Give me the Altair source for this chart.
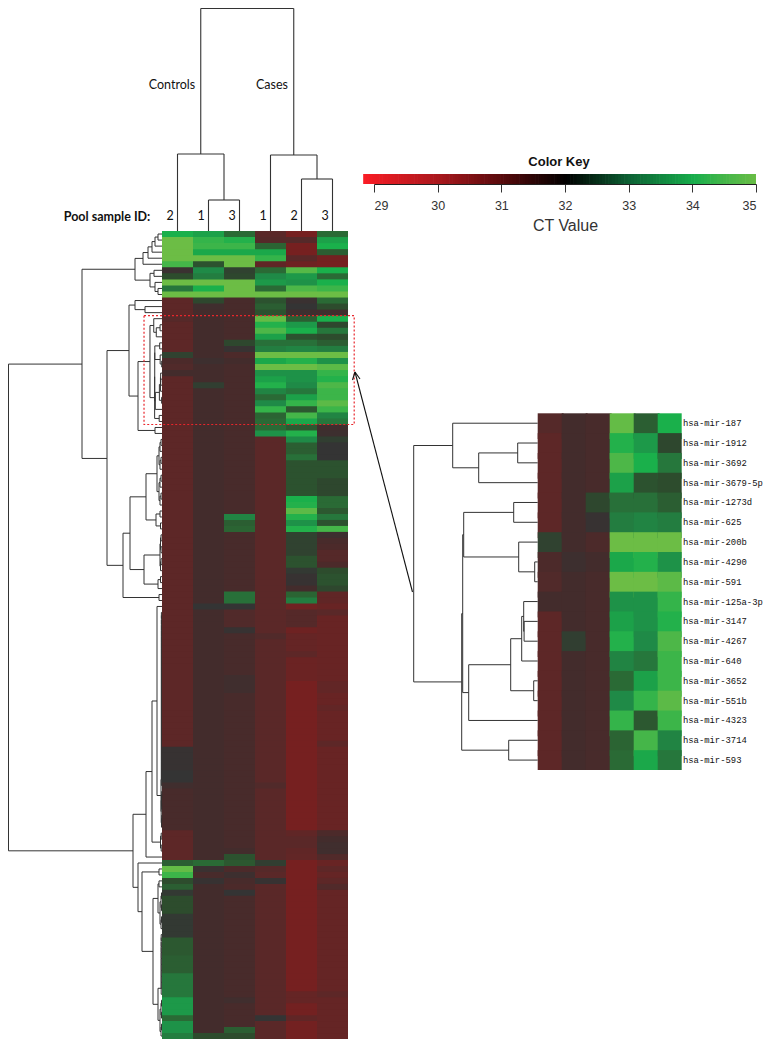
import altair as alt
import pandas as pd

W, H = 755, 1031
OX, OY = 8, 8

# ---------- values ----------
samples = ["2", "1", "3", "1", "2", "3"]
mirs = ["hsa-mir-187", "hsa-mir-1912", "hsa-mir-3692", "hsa-mir-3679-5p", "hsa-mir-1273d", "hsa-mir-625",
        "hsa-mir-200b", "hsa-mir-4290", "hsa-mir-591", "hsa-mir-125a-3p", "hsa-mir-3147", "hsa-mir-4267",
        "hsa-mir-640", "hsa-mir-3652", "hsa-mir-551b", "hsa-mir-4323", "hsa-mir-3714", "hsa-mir-593"]

ins1 = [31.1, 30.9, 30.9, 30.9, 30.9, 30.9, 32.3, 31.3, 31.2, 31.5, 30.9, 30.9, 30.9, 30.9, 30.9, 30.9, 30.9, 30.9]
ins2 = [31.5, 31.5, 31.5, 31.5, 31.5, 31.5, 31.5, 31.7, 31.5, 31.5, 31.5, 32.2, 31.5, 31.5, 31.5, 31.5, 31.5, 31.5]
ins3 = [31.4, 31.4, 31.4, 31.4, 32.4, 31.9, 31.3, 31.5, 31.4, 31.4, 31.4, 31.4, 31.4, 31.4, 31.4, 31.4, 31.4, 31.4]
ins4 = [34.9, 34.1, 34.6, 33.8, 33.1, 33.3, 35.0, 33.9, 35.0, 33.6, 33.8, 34.1, 33.4, 33.0, 33.5, 34.3, 32.9, 33.0]
ins5 = [32.8, 33.7, 34.0, 32.6, 33.1, 33.4, 35.0, 34.1, 35.0, 33.6, 33.6, 33.5, 33.2, 33.8, 34.3, 32.7, 34.5, 33.9]
ins6 = [34.0, 32.4, 33.2, 32.5, 32.8, 33.3, 35.0, 33.6, 34.8, 34.3, 34.1, 34.6, 34.4, 34.4, 34.8, 34.4, 33.4, 33.2]

col1 = ([34.0, 35, 35, 35, 35, 34.5, 31.8, 32.5, 35, 33.2, 35, 30.9, 30.9, 30.9] + ins1 +
        [30.9] * 54 + [31.9] * 4 + [32.0] * 2 + [31.6] + [31.4] * 7 + [30.9] * 5 +
        [32.8, 34.9, 34.4, 32.5, 32.8, 32.1] + [32.5] * 3 + [32.1] * 4 + [32.7] * 3 + [32.8] * 3 +
        [33.2] * 4 + [33.7] * 3 + [33.0] + [33.6] * 2 + [33.3])
col2 = ([33.8, 34.3, 34.4, 33.9, 35, 32.6, 33.5, 33.3, 35, 34.0, 35, 32.4, 31.6, 31.5] + ins2 +
        [31.5] * 30 + [32.0] + [31.5] * 42 + [33.0, 31.8, 31.4, 31.9] + [31.5] * 25 + [32.5])
col3 = ([33.0, 34.1, 34.4, 33.9, 35, 35, 32.3, 32.4, 35, 35, 35, 31.4, 31.4, 31.4] + ins3 +
        [31.4] * 15 + [33.4, 32.8, 32.9] + [31.4] * 10 + [33.1] * 2 + [32.0] + [31.2] * 3 + [31.9] +
        [31.4] * 7 + [31.6] * 3 + [31.4] * 26 + [31.5, 32.6, 32.7, 31.3, 31.7, 31.4, 31.3, 32.0] +
        [31.4] * 17 + [31.6] + [31.4] * 4 + [32.8, 32.5])
col4 = ([31.0, 31.1, 32.9, 33.9, 34.3, 30.8, 33.0, 33.5, 33.7, 33.0, 35, 32.6, 32.8, 32.6] + ins4 +
        [33.0, 33.6] + [30.95] * 33 + [31.2] + [31.0] * 24 + [31.2] + [31.0] * 12 +
        [32.2, 31.1, 31.0, 31.9] + [31.0] * 22 + [32.0] + [31.0] * 3)
col5 = ([30.0, 31.1, 30.0, 30.0, 31.0, 30.3, 34.7, 33.7, 33.6, 34.6, 35, 31.8, 32.0, 31.7] + ins5 +
        [32.7, 34.1, 33.5, 32.8, 32.8, 33.1] + [32.6] * 6 + [34.0, 34.1, 34.8, 34.1, 33.6, 34.1] +
        [32.3] * 4 + [32.6] * 2 + [32.1] + [31.9] * 2 + [31.5, 32.9, 33.3, 30.2] + [31.1] * 3 + [30.3] +
        [30.6] * 3 + [30.9] + [30.4] * 4 + [30.0] * 25 + [30.8, 31.0, 31.0, 30.8, 30.7] + [30.0] * 22 +
        [30.6] * 2 + [30.1] * 2 + [30.8] + [30.1] * 3)
col6 = ([33.0, 33.8, 34.0, 32.8, 30.1, 30.0, 34.0, 33.0, 34.0, 34.4, 35, 33.0, 32.5, 31.6] + ins6 +
        [31.6, 31.7, 32.2] + [32.0] * 3 + [32.6] * 3 + [32.4] * 3 + [33.0, 33.0, 32.7, 33.2, 32.6, 34.5] +
        [31.7, 31.4, 31.3, 31.1, 31.1, 31.3, 32.5, 32.6, 32.6, 32.4, 30.8, 30.8, 30.5, 31.0] +
        [30.5] * 11 + [30.7] * 2 + [30.5] * 2 + [30.7] + [30.5] * 5 + [30.9] + [30.5] * 14 +
        [31.3, 31.5, 31.6, 31.6, 31.2, 30.5, 30.9, 30.6, 30.9, 31.2] + [30.6] * 17 + [30.9] + [30.6] * 7)
columns = [col1, col2, col3, col4, col5, col6]
inset_columns = [ins1, ins2, ins3, ins4, ins5, ins6]
N = len(col1)

heat_domain = [29, 30, 31, 31.5, 32, 32.5, 33, 33.5, 34, 34.5, 35]
heat_range = ["#9c1c1c", "#762020", "#5a2828", "#432c2c", "#343434", "#2d4c2d", "#2a6a35",
              "#1f8a47", "#1ab04b", "#45b649", "#6cbd45"]
key_domain = [29, 30, 31, 32, 33, 34, 34.4, 35]
key_range = ["#ed1c24", "#a8181d", "#560a0c", "#000000", "#0d6335", "#17ad4b", "#3fb54a", "#6abd45"]
key_ticks = [29, 30, 31, 32, 33, 34, 35]
key_steps = [28.83 + i * 0.05 for i in range(124)]


# ---------- dendrogram structure ----------
def T(h, *children):
    return (h, children)


def R(lo, hi, hs):
    if lo == hi:
        return lo
    mid = (lo + hi) // 2
    rest = hs[1:] or hs[-1:]
    return T(hs[0], R(lo, mid, rest), R(mid + 1, hi, rest))


def L(lo, hi, h):
    node = lo
    for r in range(lo + 1, hi + 1):
        node = T(h, node, r)
    return node


def rescale(node, offset, factor):
    if isinstance(node, int):
        return node + offset
    return (node[0] * factor, tuple(rescale(c, offset, factor) for c in node[1]))


def segments(node, out):
    if isinstance(node, int):
        return 0.0, node + 0.5
    h, children = node
    ys = []
    for c in children:
        hc, yc = segments(c, out)
        out.append(dict(h=hc, h2=h, p=yc, p2=yc))
        ys.append(yc)
    out.append(dict(h=h, h2=h, p=ys[0], p2=ys[-1]))
    return h, (ys[0] + ys[-1]) / 2


inset_tree = T(124,
               T(85, 0, T(59, T(20, 1, 2), 3)),
               T(76,
                 T(75,
                   T(74, T(24, 4, 5), T(19, 6, T(3, 7, 8))),
                   T(69, T(27, T(16, T(14, 9, T(13.6, 10, 11)), 12), T(4, 13, 14)), 15)),
                 T(29, 16, 17)))

top_tree = T(222.5, T(77, 0, T(31, 1, 2)), T(76, 3, T(52, 4, 5)))

row_tree = T(153.5,
             T(80,
               T(27,
                 T(19, T(14, T(10, T(7, T(4, 0, 1), 2), 3), 4), 5),
                 T(12, T(8, 6, 7), T(7, 8, T(4, 9, 10)))),
               T(55,
                 T(33,
                   T(27, 11, T(17, 12, 13)),
                   T(24, rescale(inset_tree, 14, 0.097), T(7, 32, 33))),
                 T(39,
                   T(32,
                     T(16, R(34, 45, [5, 3, 2, 1]), T(6, T(2, 46, 47), T(1.5, 48, 49))),
                     T(18, R(50, 56, [2, 1.5, 1]), R(57, 59, [4, 1.5]))),
                   T(3, 60, 61)))),
             T(29,
               T(16,
                 T(10,
                   T(5, 62, T(1, L(63, 92, 0.6), R(93, 99, [0.8, 0.5, 0.3]))),
                   R(100, 103, [1.5, 0.8])),
                 104),
               T(24,
                 105,
                 T(20,
                   T(3, 106, 107),
                   T(9,
                     T(4, T(3, 108, 109), R(110, 116, [2, 1, 0.5])),
                     T(4, L(117, 127, 0.8), R(128, 134, [2, 1, 0.5])))))))


def tree_frame(tree):
    out = []
    segments(tree, out)
    return pd.DataFrame(out)


# ---------- scales (ranges are the plot's pixel areas) ----------
def sc(domain, rng):
    return alt.Scale(domain=domain, range=rng, nice=False, zero=False)


heat_x = sc([0, 6], [162 - OX, 348 - OX])
heat_y = sc([0, 32, N], [231 - OY, 424.5 - OY, H])
ins_x = sc([0, 6], [537.7 - OX, 681.7 - OX])
ins_y = sc([0, 18], [413.3 - OY, 770 - OY])
px_x = sc([0, 771], [-OX, 771 - OX])
px_y = sc([0, 1047], [-OY, 1047 - OY])
heat_col = alt.Scale(domain=heat_domain, range=heat_range, interpolate="rgb")
key_col = alt.Scale(domain=key_domain, range=key_range, interpolate="rgb")


def heat_frame(cols):
    rows = []
    last_c, last_r = len(cols) - 1, len(cols[0]) - 1
    for c, vals in enumerate(cols):
        for r, v in enumerate(vals):
            rows.append(dict(c=c, c2=c + 1 if c == last_c else c + 1.08,
                             r=r, r2=r + 1 if r == last_r else r + 1.3, v=v))
    return pd.DataFrame(rows)


def heat_layer(cols, xs, ys):
    return alt.Chart(heat_frame(cols)).mark_rect(strokeWidth=0).encode(
        x=alt.X("c:Q", scale=xs, axis=None), x2="c2:Q",
        y=alt.Y("r:Q", scale=ys, axis=None), y2="r2:Q",
        color=alt.Color("v:Q", scale=heat_col, legend=None))


def side_tree(tree, xs, ys, width=1.0):
    return alt.Chart(tree_frame(tree)).mark_rule(color="#333333", strokeWidth=width).encode(
        x=alt.X("h:Q", scale=xs, axis=None), x2="h2:Q",
        y=alt.Y("p:Q", scale=ys, axis=None), y2="p2:Q")


main_heat = heat_layer(columns, heat_x, heat_y)
inset_heat = heat_layer(inset_columns, ins_x, ins_y)
left_tree = side_tree(row_tree, sc([0, 162], [162 - OX, -OX]), heat_y)
inset_side = side_tree(inset_tree, sc([0, 124.4], [537.7 - OX, 413.3 - OX]), ins_y)

top_df = tree_frame(top_tree)
top_layer = alt.Chart(top_df).mark_rule(color="#333333", strokeWidth=1.1).encode(
    x=alt.X("p:Q", scale=sc([0, 6], [162 - OX, 348 - OX]), axis=None), x2="p2:Q",
    y=alt.Y("h:Q", scale=sc([0, 231], [231 - OY, -OY]), axis=None), y2="h2:Q")

box_df = pd.DataFrame([dict(c=-0.58, c2=6.2, r=14, r2=32)])
box = alt.Chart(box_df).mark_rect(fill=None, stroke="#e8262c", strokeWidth=1.2,
                                  strokeDash=[2, 2]).encode(
    x=alt.X("c:Q", scale=heat_x, axis=None), x2="c2:Q",
    y=alt.Y("r:Q", scale=heat_y, axis=None), y2="r2:Q")

arrow_df = pd.DataFrame([
    dict(x=412.5, x2=355, y=592, y2=372),
    dict(x=355, x2=352.5, y=372, y2=380),
    dict(x=355, x2=360, y=372, y2=379)])
arrow = alt.Chart(arrow_df).mark_rule(color="#111111", strokeWidth=1.1).encode(
    x=alt.X("x:Q", scale=px_x, axis=None), x2="x2:Q",
    y=alt.Y("y:Q", scale=px_y, axis=None), y2="y2:Q")

labels_df = pd.DataFrame(dict(r=[i + 0.5 for i in range(18)], c=[6] * 18, t=mirs))
labels = alt.Chart(labels_df).mark_text(align="left", baseline="middle", dx=1.2, font="Liberation Mono",
                                        fontSize=8.9, color="#111111").encode(
    x=alt.X("c:Q", scale=ins_x, axis=None), y=alt.Y("r:Q", scale=ins_y, axis=None), text="t:N")

ids_df = pd.DataFrame(dict(c=[i + 0.26 for i in range(6)], t=samples))
ids = alt.Chart(ids_df).mark_text(align="center", baseline="middle", font="Lato", fontSize=12.5,
                                  color="#111111").encode(
    x=alt.X("c:Q", scale=heat_x, axis=None), y=alt.value(216 - OY), text="t:N")

notes_df = pd.DataFrame(dict(x=[172, 272], y=[85, 85], t=["Controls", "Cases"]))
notes = alt.Chart(notes_df).mark_text(align="center", baseline="middle", font="Lato", fontSize=12.5,
                                      color="#111111").encode(
    x=alt.X("x:Q", scale=px_x, axis=None), y=alt.Y("y:Q", scale=px_y, axis=None), text="t:N")

pool_df = pd.DataFrame(dict(x=[107], y=[217], t=["Pool sample ID:"]))
pool = alt.Chart(pool_df).mark_text(align="center", baseline="middle", font="Lato", fontWeight="bold",
                                    fontSize=12.5, color="#111111").encode(
    x=alt.X("x:Q", scale=px_x, axis=None), y=alt.Y("y:Q", scale=px_y, axis=None), text="t:N")

key_scale = sc([29, 35], [374 - OX, 756 - OX])
key_df = pd.DataFrame(dict(k=key_steps, k2=[min(k + 0.06, 35) for k in key_steps]))
key = alt.Chart(key_df).mark_rect(strokeWidth=0, clip=False).encode(
    x=alt.X("k:Q", scale=key_scale,
            axis=alt.Axis(orient="bottom", offset=184 - OY - H, values=key_ticks, format="d", grid=False,
                          title="CT Value", titleFont="Liberation Sans", titleFontSize=16,
                          titleFontWeight="normal", titleColor="#333333", titlePadding=6,
                          labelFont="Liberation Sans", labelFontSize=12.5, labelColor="#333333",
                          labelPadding=7, tickColor="#333333", tickSize=8, domainColor="#222222")),
    x2=alt.X2("k2:Q"),
    y=alt.value(174 - OY), y2=alt.value(184 - OY),
    color=alt.Color("k:Q", scale=key_col, legend=None))

key_title_df = pd.DataFrame(dict(x=[559], y=[162], t=["Color Key"]))
key_title = alt.Chart(key_title_df).mark_text(align="center", baseline="middle", font="Liberation Sans",
                                              fontWeight="bold", fontSize=13, color="#111111").encode(
    x=alt.X("x:Q", scale=px_x, axis=None), y=alt.Y("y:Q", scale=px_y, axis=None), text="t:N")

chart = alt.layer(main_heat, left_tree, top_layer, box, arrow, inset_heat, inset_side, labels,
                  ids, notes, pool, key, key_title).resolve_scale(
    x="independent", y="independent", color="independent"
).properties(width=W, height=H, padding=0, background="white",
             autosize=alt.AutoSizeParams(type="none")
).configure_view(stroke=None)

chart.save("out.html", embed_options={"renderer": "svg", "actions": False})
